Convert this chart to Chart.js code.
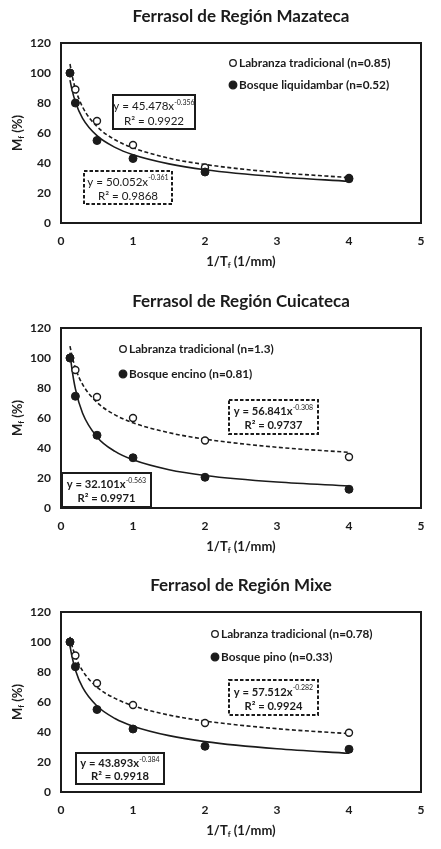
<!DOCTYPE html>
<html>
<head>
<meta charset="utf-8">
<script src="https://cdn.jsdelivr.net/npm/chart.js@4.4.1/dist/chart.umd.min.js"></script>
<style>
  body { margin: 0; background: #fff; }
  .panel { position: absolute; left: 0; width: 441px; height: 285px; }
</style>
</head>
<body>
<div class="panel" style="top:0px"><canvas id="mazateca" width="441" height="285"></canvas></div>
<div class="panel" style="top:285px"><canvas id="cuicateca" width="441" height="285"></canvas></div>
<div class="panel" style="top:569px"><canvas id="mixe" width="441" height="285"></canvas></div>
<script>
// measured points (1/Tf, Mf %)
const xTf = [0.125, 0.2, 0.5, 1, 2, 4];
const mazLabranza = [100, 89, 68, 52, 37, 30];
const mazBosque = [100, 80, 55, 43, 34, 29.5];
const cuiLabranza = [100, 92, 74, 60, 45, 34];
const cuiBosque = [100, 74.5, 48.5, 33.5, 20.5, 12.5];
const mixLabranza = [100, 91, 72.5, 58, 46, 39.5];
const mixBosque = [100, 83.5, 55, 42, 30.5, 28.5];

// trend curves
const trendX = [0.125, 0.15, 0.2, 0.3, 0.5, 0.75, 1, 1.5, 2, 3, 4];
const mazLabranzaFit = [106, 99.3, 89.5, 77.3, 64.3, 55.5, 50.1, 43.2, 39, 33.7, 30.3];
const mazBosqueFit = [95.3, 89.4, 80.7, 69.8, 58.2, 50.4, 45.5, 39.4, 35.5, 30.8, 27.8];
const cuiLabranzaFit = [107.9, 102, 93.3, 82.4, 70.4, 62.1, 56.8, 50.2, 45.9, 40.5, 37.1];
const cuiBosqueFit = [103.5, 93.4, 79.4, 63.2, 47.4, 37.7, 32.1, 25.5, 21.7, 17.3, 14.7];
const mixLabranzaFit = [103.4, 98.2, 90.5, 80.8, 69.9, 62.4, 57.5, 51.3, 47.3, 42.2, 38.9];
const mixBosqueFit = [97.5, 90.9, 81.4, 69.7, 57.3, 49, 43.9, 37.6, 33.6, 28.8, 25.8];

const xTicks = [0, 1, 2, 3, 4, 5];
const yTicks = [0, 20, 40, 60, 80, 100, 120];

const INK = "#1b1b1b";
const FONT = "Lato, 'Open Sans', sans-serif";

// text with sub/superscripts: parts = [[text, mode]] mode 0 normal, 1 sub, 2 sup
function richText(ctx, parts, x, y, size, weight) {
  const small = Math.round(size * 0.62);
  const fontFor = (m) => `${m === 2 ? "normal" : weight} ${m ? small : size}px ${FONT}`;
  let w = 0;
  parts.forEach(([t, m]) => { ctx.font = fontFor(m); w += ctx.measureText(t).width; });
  let cx = x - w / 2;
  ctx.textAlign = "left";
  ctx.textBaseline = "middle";
  parts.forEach(([t, m]) => {
    ctx.font = fontFor(m);
    const dy = m === 1 ? size * 0.3 : m === 2 ? -size * 0.35 : 0;
    ctx.fillText(t, cx, y + dy);
    cx += ctx.measureText(t).width;
  });
}

const decor = {
  id: "decor",
  afterDraw(chart, args, opts) {
    const { ctx, chartArea: a } = chart;
    ctx.save();
    // plot frame
    ctx.strokeStyle = INK;
    ctx.lineWidth = 2;
    ctx.strokeRect(a.left, a.top, a.right - a.left, a.bottom - a.top);

    // axis titles
    ctx.fillStyle = INK;
    richText(ctx, [["1/T", 0], ["f", 1], [" (1/mm)", 0]], (a.left + a.right) / 2, a.bottom + 39, 13, "bold");
    ctx.save();
    ctx.translate(18, (a.top + a.bottom) / 2);
    ctx.rotate(-Math.PI / 2);
    richText(ctx, [["M", 0], ["f", 1], [" (%)", 0]], 0, 0, 13, "bold");
    ctx.restore();

    // legend
    opts.legend.forEach((it) => {
      const x = a.left + it.x, y = a.top + it.y;
      ctx.beginPath();
      ctx.arc(x, y, it.open ? 3.3 : 3.8, 0, Math.PI * 2);
      ctx.fillStyle = it.open ? "#fff" : INK;
      ctx.fill();
      ctx.lineWidth = 1.3;
      ctx.strokeStyle = INK;
      ctx.stroke();
      ctx.fillStyle = INK;
      ctx.font = `bold 11.8px ${FONT}`;
      ctx.textAlign = "left";
      ctx.textBaseline = "middle";
      ctx.fillText(it.text, x + 6, y + 0.5);
    });

    // equation boxes
    opts.boxes.forEach((b) => {
      const x = a.left + b.x, y = a.top + b.y;
      ctx.fillStyle = "#fff";
      ctx.fillRect(x, y, b.w, b.h);
      ctx.setLineDash(b.dash ? [3.5, 2] : []);
      ctx.lineWidth = 2;
      ctx.strokeStyle = INK;
      ctx.strokeRect(x, y, b.w, b.h);
      ctx.setLineDash([]);
      ctx.fillStyle = INK;
      const wt = opts.boldEq ? "bold" : "normal";
      const sz = opts.boldEq ? 11.2 : 11.6;
      richText(ctx, [["y = " + b.coef + "x", 0], [b.exp, 2]], x + b.w / 2, y + b.h * 0.34, sz, wt);
      richText(ctx, [["R² = " + b.r2, 0]], x + b.w / 2, y + b.h * 0.76, sz, wt);
    });
    ctx.restore();
  },
};

const pts = (xs, ys) => xs.map((x, i) => ({ x, y: ys[i] }));

function makeChart(id, title, labranza, bosque, labranzaFit, bosqueFit, decorOpts) {
  return new Chart(document.getElementById(id), {
    type: "scatter",
    data: {
      datasets: [
        {
          label: "Bosque",
          data: pts(xTf, bosque),
          order: 0,
          pointRadius: 4,
          pointBackgroundColor: INK,
          pointBorderColor: INK,
          pointBorderWidth: 1,
        },
        {
          label: "Labranza tradicional",
          data: pts(xTf, labranza),
          order: 1,
          pointRadius: 3.5,
          pointBackgroundColor: "#fff",
          pointBorderColor: INK,
          pointBorderWidth: 1.4,
        },
        {
          label: "fit bosque",
          data: pts(trendX, bosqueFit),
          order: 3,
          showLine: true,
          cubicInterpolationMode: "monotone",
          borderColor: INK,
          borderWidth: 1.6,
          pointRadius: 0,
        },
        {
          label: "fit labranza",
          data: pts(trendX, labranzaFit),
          order: 2,
          showLine: true,
          cubicInterpolationMode: "monotone",
          borderColor: INK,
          borderWidth: 1.6,
          borderDash: [4, 2.5],
          pointRadius: 0,
        },
      ],
    },
    options: {
      responsive: false,
      animation: false,
      layout: { padding: { left: 0, right: 20, top: 0, bottom: 0 } },
      plugins: {
        legend: { display: false },
        tooltip: { enabled: false },
        title: {
          display: true,
          fullSize: false, // centred over the plot, not the canvas
          text: title,
          color: INK,
          font: { family: FONT, size: 17, weight: "bold" },
          padding: { top: 6, bottom: 16.6 },
        },
        decor: decorOpts,
      },
      scales: {
        x: {
          type: "linear",
          min: 0,
          max: 5,
          afterBuildTicks: (s) => { s.ticks = xTicks.map((v) => ({ value: v })); },
          afterFit: (s) => { s.height = 62; },
          grid: { display: false, drawTicks: false },
          border: { display: false },
          ticks: { color: INK, padding: 11, font: { family: FONT, size: 12, weight: "bold" } },
        },
        y: {
          min: 0,
          max: 120,
          afterBuildTicks: (s) => { s.ticks = yTicks.map((v) => ({ value: v })); },
          afterFit: (s) => { s.width = 61; },
          grid: { display: false, drawTicks: false },
          border: { display: false },
          ticks: { color: INK, padding: 10, font: { family: FONT, size: 12, weight: "bold" } },
        },
      },
    },
    plugins: [decor],
  });
}

makeChart("mazateca", "Ferrasol de Región Mazateca", mazLabranza, mazBosque, mazLabranzaFit, mazBosqueFit, {
  boldEq: false,
  legend: [
    { x: 172, y: 20, open: true, text: "Labranza tradicional (n=0.85)" },
    { x: 172, y: 42, open: false, text: "Bosque liquidambar (n=0.52)" },
  ],
  boxes: [
    { x: 52, y: 52, w: 82, h: 34, dash: false, coef: "45.478", exp: "-0.356", r2: "0.9922" },
    { x: 23, y: 128, w: 88, h: 33, dash: true, coef: "50.052", exp: "-0.361", r2: "0.9868" },
  ],
});

makeChart("cuicateca", "Ferrasol de Región Cuicateca", cuiLabranza, cuiBosque, cuiLabranzaFit, cuiBosqueFit, {
  boldEq: true,
  legend: [
    { x: 62, y: 21, open: true, text: "Labranza tradicional (n=1.3)" },
    { x: 62, y: 46, open: false, text: "Bosque encino (n=0.81)" },
  ],
  boxes: [
    { x: 168, y: 72, w: 89, h: 34, dash: true, coef: "56.841", exp: "-0.308", r2: "0.9737" },
    { x: 1, y: 145, w: 89, h: 34, dash: false, coef: "32.101", exp: "-0.563", r2: "0.9971" },
  ],
});

makeChart("mixe", "Ferrasol de Región Mixe", mixLabranza, mixBosque, mixLabranzaFit, mixBosqueFit, {
  boldEq: true,
  legend: [
    { x: 154, y: 22, open: true, text: "Labranza tradicional (n=0.78)" },
    { x: 154, y: 45, open: false, text: "Bosque pino (n=0.33)" },
  ],
  boxes: [
    { x: 168, y: 68, w: 89, h: 35, dash: true, coef: "57.512", exp: "-0.282", r2: "0.9924" },
    { x: 15, y: 141, w: 88, h: 31, dash: false, coef: "43.893", exp: "-0.384", r2: "0.9918" },
  ],
});
</script>
</body>
</html>
